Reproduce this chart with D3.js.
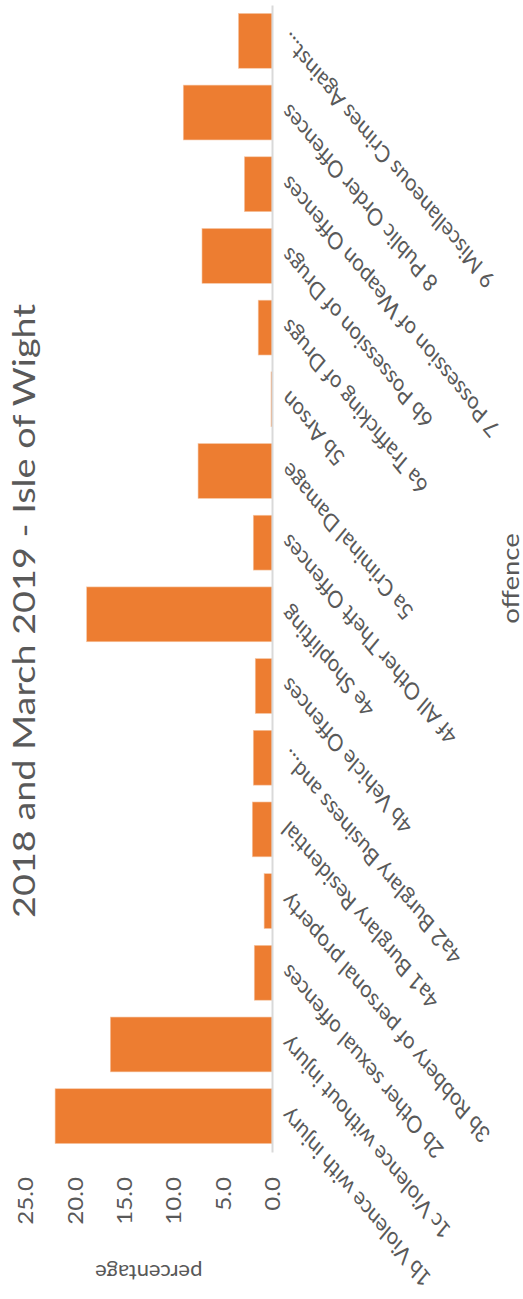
<!DOCTYPE html>
<html>
<head>
<meta charset="utf-8">
<script src="https://cdn.jsdelivr.net/npm/d3@7"></script>
<style>
  body { margin: 0; background: #fff; }
  text { font-family: Lato, "Open Sans", sans-serif; fill: #595959; }
</style>
</head>
<body>
<div id="main-container"></div>
<script>
// DATA (bottom to top in the picture)
const offences = [
    "1b Violence with injury",
    "1c Violence without injury",
    "2b Other sexual offences",
    "3b Robbery of personal property",
    "4a1 Burglary Residential",
    "4a2 Burglary Business and...",
    "4b Vehicle Offences",
    "4e Shoplifting",
    "4f All Other Theft Offences",
    "5a Criminal Damage",
    "5b Arson",
    "6a Trafficking of Drugs",
    "6b Possession of Drugs",
    "7 Possession of Weapon Offences",
    "8 Public Order Offences",
    "9 Miscellaneous Crimes Against..."
];
const percentages = [22.0, 16.4, 1.8, 0.8, 2.0, 1.9, 1.7, 18.8, 1.9, 7.5, 0.1, 1.4, 7.1, 2.8, 9.0, 3.4];
const valueTicks = [0, 5, 10, 15, 20, 25];
const titleText = "2018 and March 2019 - Isle of Wight";

// CONSTANTS
const width = 523, height = 1299;
const baseX = 272, zeroTop = 5, zeroBottom = 1152;
const stretch = 1.2; // the picture is taller than the text shapes

const data = offences.map((d, i) => ({offence: d, value: percentages[i]}));

let svg = d3.select("#main-container")
    .append("svg")
        .attr("width", width)
        .attr("height", height);

// value scale runs right to left, categories bottom to top
let xScale = d3.scaleLinear()
    .domain([0, 25])
    .range([baseX, baseX - 246.5]);

let yScale = d3.scaleBand()
    .domain(offences)
    .range([zeroBottom, zeroTop])
    .paddingInner(0.235)
    .paddingOuter(0.1175);

// bars
svg.append("g")
    .selectAll("rect")
    .data(data)
    .enter()
    .append("rect")
    .attr("x", (d) => xScale(d.value))
    .attr("y", (d) => yScale(d.offence))
    .attr("width", (d) => xScale(0) - xScale(d.value))
    .attr("height", yScale.bandwidth())
    .style("fill", "#ED7D31")
    .style("stroke", "#f6c7a6")
    .style("stroke-width", 0.6);

// value axis (tick labels only)
let valueAxis = svg.append("g")
    .attr("transform", `translate(0, ${zeroBottom + 25})`)
    .call(d3.axisBottom(xScale).tickValues(valueTicks).tickSize(0).tickFormat(d3.format(".1f")));
valueAxis.select(".domain").remove();
valueAxis.selectAll("text")
    .attr("transform", `rotate(-90) scale(1.15, 1)`)
    .attr("x", 0)
    .attr("y", 0)
    .attr("dy", "0.35em")
    .style("text-anchor", "end")
    .style("font-size", "21px")
    .style("font-family", "Lato, sans-serif")
    .style("fill", "#595959");

// category axis along the baseline
let catAxis = svg.append("g")
    .attr("transform", `translate(${baseX}, 0)`)
    .call(d3.axisRight(yScale).tickSize(0));
catAxis.select(".domain")
    .attr("stroke", "#d9d9d9")
    .attr("stroke-width", 2);
catAxis.selectAll("text")
    .attr("transform", `translate(13, -4) scale(1, ${stretch}) rotate(-135)`)
    .attr("x", 0)
    .attr("y", 0)
    .attr("dy", "0.35em")
    .style("text-anchor", "end")
    .style("font-size", "20px")
    .style("font-family", "Lato, sans-serif")
    .style("fill", "#595959");

// axis titles
svg.append("text")
    .attr("transform", `translate(${(xScale(0) + xScale(25)) / 2}, 1273) rotate(180)`)
    .attr("dy", "0.35em")
    .style("text-anchor", "middle")
    .style("font-size", "22px")
    .text("percentage");

svg.append("text")
    .attr("transform", `translate(511, ${(zeroTop + zeroBottom) / 2}) rotate(-90) scale(${stretch}, 1)`)
    .attr("dy", "0.35em")
    .style("text-anchor", "middle")
    .style("font-size", "23px")
    .text("offence");

// chart title
svg.append("text")
    .attr("transform", `translate(35, 611) rotate(-90) scale(${stretch}, 1)`)
    .style("text-anchor", "middle")
    .style("font-size", "31.5px")
    .text(titleText);
</script>
</body>
</html>
